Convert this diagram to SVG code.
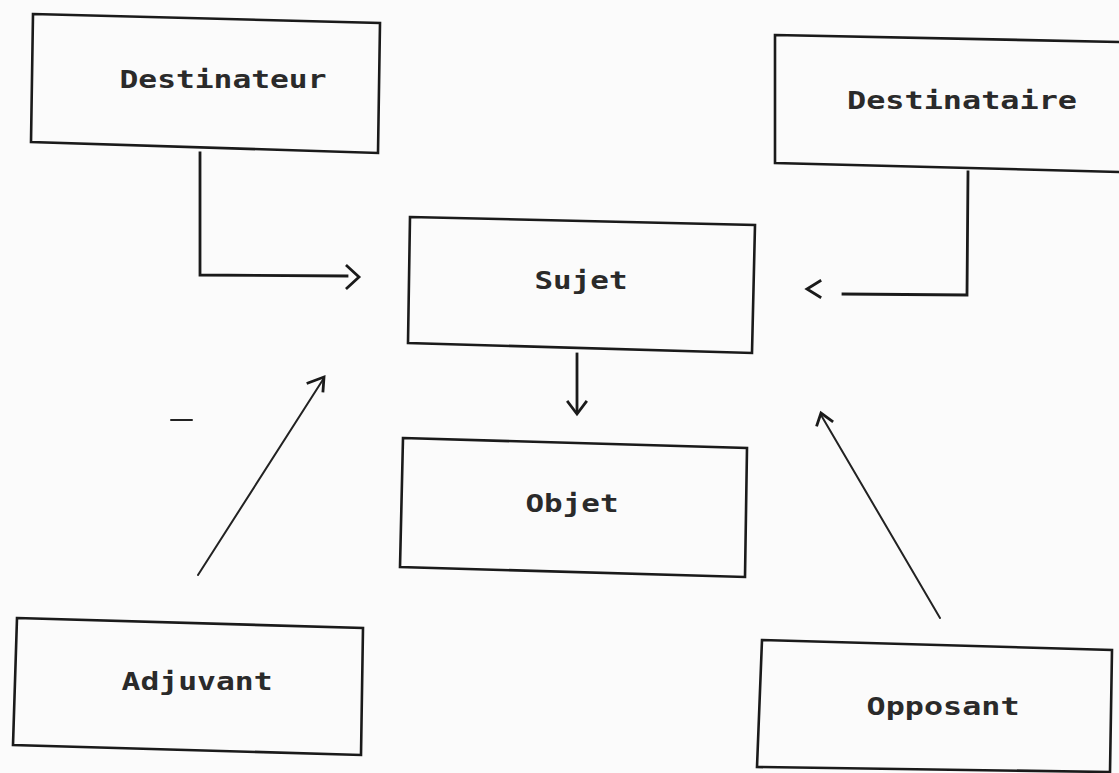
<svg xmlns="http://www.w3.org/2000/svg" width="1119" height="773" viewBox="0 0 1119 773">
<style>
.box{fill:none;stroke:#1a1a1a;stroke-width:2.6;stroke-linejoin:miter}
.lbl{font-family:"DejaVu Sans Mono","Liberation Mono",monospace;font-size:24px;font-weight:bold;fill:#2a2a2a;text-anchor:middle}
.con{fill:none;stroke:#1a1a1a;stroke-width:2.8;stroke-linecap:square}
.thin{fill:none;stroke:#222;stroke-width:2;stroke-linecap:round}
</style>
<rect width="1119" height="773" fill="#fbfbfb"/>
<g id="destinateur">
<polygon class="box" points="33,14 380,23 378,153 31,142"/>
<text class="lbl" x="223" y="88" textLength="207" lengthAdjust="spacingAndGlyphs">Destinateur</text>
</g>
<g id="destinataire">
<polygon class="box" points="775,35 1121,42 1121,172 775,163"/>
<text class="lbl" x="962" y="109" textLength="230" lengthAdjust="spacingAndGlyphs">Destinataire</text>
</g>
<g id="sujet">
<polygon class="box" points="410,217 755,225 752,353 408,343"/>
<text class="lbl" x="581" y="289" textLength="93" lengthAdjust="spacingAndGlyphs">Sujet</text>
</g>
<g id="objet">
<polygon class="box" points="403,438 747,448 745,577 400,567"/>
<text class="lbl" x="572" y="512" textLength="93" lengthAdjust="spacingAndGlyphs">Objet</text>
</g>
<g id="adjuvant">
<polygon class="box" points="17,618 363,628 361,755 13,745"/>
<text class="lbl" x="197" y="690" textLength="151" lengthAdjust="spacingAndGlyphs">Adjuvant</text>
</g>
<g id="opposant">
<polygon class="box" points="762,640 1112,650 1110,772 757,767"/>
<text class="lbl" x="943" y="715" textLength="153" lengthAdjust="spacingAndGlyphs">Opposant</text>
</g>
<g id="connectors">
<polyline class="con" points="200,153 200,275 347,276"/>
<polyline class="con" points="347,266 359,277 347,288"/>
<polyline class="con" points="968,172 967,295 843,294"/>
<polyline class="con" points="820,281 807,289 820,297"/>
<line class="con" x1="577" y1="354" x2="577" y2="412"/>
<polyline class="con" points="568,402 577,414 586,402"/>
<line class="thin" x1="198" y1="575" x2="324" y2="378"/>
<polyline class="con" points="308,383 324,377 323,391"/>
<line class="thin" x1="940" y1="618" x2="821" y2="415"/>
<polyline class="con" points="817,425 821,413 832,421"/>
<line class="thin" x1="171" y1="420" x2="192" y2="420"/>
</g>
</svg>
